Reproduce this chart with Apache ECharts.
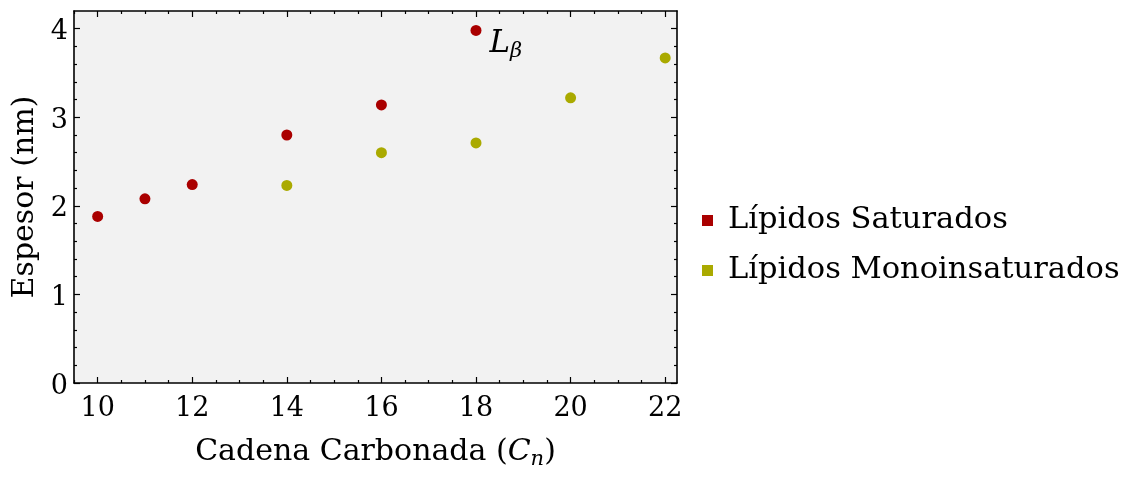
<!DOCTYPE html>
<html>
<head>
<meta charset="utf-8">
<script src="https://cdn.jsdelivr.net/npm/echarts@6/dist/echarts.min.js"></script>
<style>
html,body{margin:0;padding:0;background:#fff;}
#chart{width:1132px;height:479px;}
</style>
</head>
<body>
<div id="chart"></div>
<script>
// ---- data ----
const satX = [10, 11, 12, 14, 16, 18];
const satY = [1.88, 2.08, 2.24, 2.80, 3.14, 3.98];
const monoX = [14, 16, 18, 20, 22];
const monoY = [2.23, 2.60, 2.71, 3.22, 3.67];
const seriesNames = ['Lípidos Saturados', 'Lípidos Monoinsaturados'];
const xMajor = [10, 12, 14, 16, 18, 20, 22];
const yMajor = [0, 1, 2, 3, 4];
const xRange = [9.5, 22.25];
const yRange = [0, 4.2];

// minor ticks (axis decoration)
const xMinor = [];
for (let v = 9.5; v <= 22.25 + 1e-9; v += 0.5) { if (xMajor.indexOf(v) < 0) xMinor.push(v); }
const yMinor = [];
for (let k = 1; k <= 21; k++) { const v = Math.round(k * 2) / 10; if (yMajor.indexOf(v) < 0 && v < 4.2) yMinor.push(v); }

const FONT = 'DejaVu Serif';
const RED = '#aa0000';
const OLIVE = '#aaaa00';

function xAx(pos, ticks, len, major, extra) {
  return Object.assign({
    type: 'value', gridIndex: 0, position: pos, min: xRange[0], max: xRange[1],
    axisLine: { show: major, onZero: false, lineStyle: { color: '#000', width: 1.6 } },
    axisTick: { show: true, inside: true, length: len, customValues: ticks, lineStyle: { color: '#000', width: 1.2 } },
    axisLabel: { show: false },
    splitLine: { show: false }
  }, extra || {});
}
function yAx(pos, ticks, len, major, extra) {
  return Object.assign({
    type: 'value', gridIndex: 0, position: pos, min: yRange[0], max: yRange[1],
    axisLine: { show: major, onZero: false, lineStyle: { color: '#000', width: 1.6 } },
    axisTick: { show: true, inside: true, length: len, customValues: ticks, lineStyle: { color: '#000', width: 1.2 } },
    axisLabel: { show: false },
    splitLine: { show: false }
  }, extra || {});
}

const chart = echarts.init(document.getElementById('chart'), null, { renderer: 'canvas' });
chart.setOption({
  animation: false,
  backgroundColor: '#fff',
  grid: { left: 74, right: 455, top: 11, bottom: 96, show: true, backgroundColor: '#f2f2f2', borderWidth: 0 },
  legend: {
    orient: 'vertical', left: 697, top: 200, itemWidth: 11, itemHeight: 11, itemGap: 19,
    icon: 'rect',
    data: seriesNames,
    textStyle: { fontFamily: FONT, fontSize: 30.5, color: '#000', padding: [0, 0, 0, 10] }
  },
  xAxis: [
    xAx('bottom', xMajor, 6, true, {
      axisLabel: { show: true, customValues: xMajor, fontFamily: FONT, fontSize: 27, color: '#000', margin: 12 },
      name: 'Cadena Carbonada ({c|C}{n|n})', nameLocation: 'middle', nameGap: 51,
      nameTextStyle: {
        fontFamily: FONT, fontSize: 30, color: '#000',
        rich: {
          c: { fontFamily: FONT, fontSize: 30, fontStyle: 'italic', color: '#000' },
          n: { fontFamily: FONT, fontSize: 21, fontStyle: 'italic', color: '#000', padding: [15, 0, 0, 0] }
        }
      }
    }),
    xAx('bottom', xMinor, 3, false),
    xAx('top', xMajor, 6, true),
    xAx('top', xMinor, 3, false)
  ],
  yAxis: [
    yAx('left', yMajor, 6, true, {
      axisLabel: {
        show: true, customValues: yMajor, margin: 6,
        formatter: '{v|{value}}',
        rich: { v: { fontFamily: FONT, fontSize: 27, color: '#000', padding: [7, 0, 0, 0] } }
      },
      name: 'Espesor (nm)', nameLocation: 'middle', nameGap: 34, nameRotate: 90,
      nameTextStyle: { fontFamily: FONT, fontSize: 30, color: '#000' }
    }),
    yAx('left', yMinor, 3, false),
    yAx('right', yMajor, 6, true),
    yAx('right', yMinor, 3, false)
  ],
  series: [
    {
      name: seriesNames[0], type: 'scatter', xAxisIndex: 0, yAxisIndex: 0,
      symbol: 'circle', symbolSize: 11, itemStyle: { color: RED, opacity: 1 },
      data: satX.map((x, i) => i === satX.length - 1 ? {
        value: [x, satY[i]],
        label: {
          show: true, position: 'right', distance: 8, offset: [0, 13],
          formatter: '{a|L}{b|β}',
          rich: {
            a: { fontFamily: FONT, fontSize: 31, fontStyle: 'italic', color: '#000' },
            b: { fontFamily: FONT, fontSize: 21, fontStyle: 'italic', color: '#000', padding: [16, 0, 0, 0] }
          }
        }
      } : [x, satY[i]])
    },
    {
      name: seriesNames[1], type: 'scatter', xAxisIndex: 0, yAxisIndex: 0,
      symbol: 'circle', symbolSize: 11, itemStyle: { color: OLIVE, opacity: 1 },
      data: monoX.map((x, i) => [x, monoY[i]])
    }
  ]
});
</script>
</body>
</html>
